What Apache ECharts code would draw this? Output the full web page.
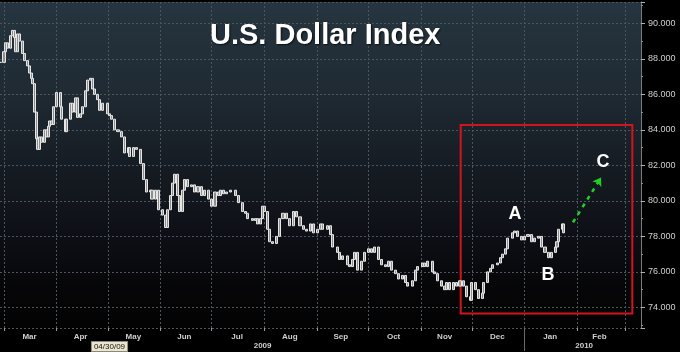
<!DOCTYPE html>
<html><head><meta charset="utf-8">
<script src="https://cdn.jsdelivr.net/npm/echarts@6/dist/echarts.min.js"></script>
<style>html,body{margin:0;padding:0;background:#000;}#c{width:680px;height:352px;}</style>
</head><body><div id="c"></div>
<script>
const dates = ['2009-02-27','2009-03-01','2009-03-02','2009-03-03','2009-03-05','2009-03-06','2009-03-07','2009-03-08','2009-03-09','2009-03-10',
'2009-03-12','2009-03-13','2009-03-15','2009-03-16','2009-03-17','2009-03-18','2009-03-19','2009-03-20','2009-03-21','2009-03-22',
'2009-03-23','2009-03-25','2009-03-26','2009-03-27','2009-03-28','2009-03-29','2009-03-30','2009-04-01','2009-04-03','2009-04-04',
'2009-04-06','2009-04-07','2009-04-09','2009-04-10','2009-04-12','2009-04-13','2009-04-15','2009-04-16','2009-04-18','2009-04-19',
'2009-04-21','2009-04-22','2009-04-23','2009-04-25','2009-04-26','2009-04-28','2009-05-01','2009-05-02','2009-05-03','2009-05-05',
'2009-05-07','2009-05-09','2009-05-11','2009-05-13','2009-05-14','2009-05-16','2009-05-18','2009-05-20','2009-05-22','2009-05-24',
'2009-05-26','2009-05-27','2009-05-29','2009-05-31','2009-06-02','2009-06-04','2009-06-05','2009-06-07','2009-06-08','2009-06-09',
'2009-06-11','2009-06-12','2009-06-14','2009-06-15','2009-06-17','2009-06-19','2009-06-21','2009-06-23','2009-06-25','2009-06-27',
'2009-06-29','2009-07-01','2009-07-03','2009-07-05','2009-07-06','2009-07-08','2009-07-10','2009-07-12','2009-07-15','2009-07-17',
'2009-07-19','2009-07-21','2009-07-22','2009-07-25','2009-07-27','2009-07-28','2009-07-30','2009-07-31','2009-08-01','2009-08-03',
'2009-08-04','2009-08-06','2009-08-08','2009-08-10','2009-08-12','2009-08-14','2009-08-16','2009-08-18','2009-08-20','2009-08-22',
'2009-08-24','2009-08-26','2009-08-28','2009-08-30','2009-09-01','2009-09-03','2009-09-04','2009-09-07','2009-09-09','2009-09-10',
'2009-09-13','2009-09-14','2009-09-16','2009-09-19','2009-09-20','2009-09-22','2009-09-23','2009-09-25','2009-09-27','2009-09-29',
'2009-10-01','2009-10-03','2009-10-05','2009-10-07','2009-10-09','2009-10-11','2009-10-13','2009-10-15','2009-10-17','2009-10-19',
'2009-10-21','2009-10-23','2009-10-24','2009-10-27','2009-10-29','2009-10-30','2009-11-02','2009-11-03','2009-11-05','2009-11-08',
'2009-11-09','2009-11-11','2009-11-13','2009-11-15','2009-11-16','2009-11-18','2009-11-20','2009-11-22','2009-11-24','2009-11-26',
'2009-11-28','2009-11-30','2009-12-01','2009-12-03','2009-12-05','2009-12-07','2009-12-08','2009-12-10','2009-12-12','2009-12-13',
'2009-12-16','2009-12-18','2009-12-19','2009-12-21','2009-12-22','2009-12-25','2009-12-26','2009-12-28','2009-12-30','2010-01-01',
'2010-01-03','2010-01-05','2010-01-07','2010-01-09','2010-01-11','2010-01-13','2010-01-15','2010-01-17','2010-01-19','2010-01-20',
'2010-01-21','2010-01-23','2010-01-24'];
const closes = [87.8,88.4,88.9,88.6,89.3,89.6,89.2,88.4,89.4,89.0,
88.3,87.9,87.6,87.2,86.9,86.6,85.0,83.5,82.9,83.6,
83.3,84.0,83.6,84.2,84.5,84.3,85.3,86.1,85.3,84.6,
83.9,84.6,85.5,85.0,85.8,84.7,84.9,85.3,86.2,86.8,
86.9,86.3,86.0,85.7,85.1,85.5,84.9,84.8,84.6,84.0,
83.9,83.6,82.7,83.0,82.5,83.0,82.9,82.1,81.2,80.5,
80.6,80.1,80.6,79.5,79.2,78.5,79.5,80.3,81.0,81.5,
80.3,79.4,80.6,81.2,80.8,80.9,80.5,80.8,80.3,80.6,
80.1,79.7,80.5,80.3,80.6,80.4,80.5,80.6,80.3,79.9,
79.4,79.3,79.0,78.9,79.0,78.7,79.0,79.7,79.4,78.4,
77.7,77.6,78.0,79.0,79.3,79.0,78.6,79.4,79.1,78.6,
78.4,78.3,78.7,78.2,78.4,78.7,78.4,78.6,78.1,77.4,
77.1,76.7,76.9,76.4,76.3,76.7,77.1,76.1,76.6,77.1,
77.3,77.1,77.4,76.7,76.4,76.3,76.6,76.1,75.9,75.6,
75.8,75.4,75.2,75.5,76.1,76.3,76.5,76.3,76.6,76.0,
75.9,75.5,75.2,75.0,75.4,75.0,75.4,75.2,75.5,75.2,
74.6,74.4,75.4,75.0,74.5,74.8,75.4,76.0,76.2,76.4,
76.5,76.8,77.0,77.3,77.9,78.2,78.3,78.0,77.8,78.0,
78.1,77.7,77.9,78.0,77.4,77.1,76.8,77.1,77.4,77.7,
78.4,78.7,78.2];

const monthStarts = ['2009-03-01','2009-04-01','2009-05-01','2009-06-01','2009-07-01','2009-08-01','2009-09-01','2009-10-01','2009-11-01','2009-12-01','2010-01-01','2010-02-01','2010-03-01'];
const monthLabels = ['Mar','Apr','May','Jun','Jul','Aug','Sep','Oct','Nov','Dec','Jan','Feb'];
const monthLabelDates = ['2009-03-16','2009-04-15','2009-05-16','2009-06-15','2009-07-16','2009-08-16','2009-09-15','2009-10-16','2009-11-15','2009-12-16','2010-01-16','2010-02-14'];
const yearLabels = ['2009','2010'];
const yearLabelDates = ['2009-07-31','2010-02-05'];
const yearBoundary = '2010-01-01';
const cursorText = '04/30/09';
const cursorDate = '2009-05-02';
const lastPrice = 78.204;
const waveNames = ['A','B','C'];
const waveDates = ['2009-12-26 07:00','2010-01-14 17:00','2010-02-16 00:00'];
const waveValues = [79.24, 75.81, 82.16];
const arrowDates = ['2010-01-29 10:00','2010-02-14 22:00'];
const arrowValues = [78.79, 81.31];
const boxDates = ['2009-11-24 10:00','2010-03-05 07:00'];
const boxValues = [84.27, 73.66];
const axisRange = ['2009-02-26 15:36','2010-03-10 09:36'];
const yMin = 72.84, yMax = 91.2;

function ts(s){
  const m = s.match(/(\d+)-(\d+)-(\d+)(?:\s+(\d+):(\d+))?/);
  return new Date(+m[1], +m[2]-1, +m[3], m[4]?+m[4]:0, m[5]?+m[5]:0).getTime();
}
const candle = closes.map((c,i)=>{
  const o = i ? closes[i-1] : c;
  return [ts(dates[i]), o, c, Math.min(o,c), Math.max(o,c)];
});
const monthLabelTs = monthLabelDates.map(ts);
const yearTs = yearLabelDates.map(ts);
const cursorTs = ts(cursorDate);
function nearestIdx(arr, v){let b=0;for(let i=1;i<arr.length;i++){if(Math.abs(arr[i]-v)<Math.abs(arr[b]-v))b=i;}return b;}

const chart = echarts.init(document.getElementById('c'), null, {renderer:'canvas'});
const font = 'Liberation Sans, Arial, sans-serif';
chart.setOption({
  animation:false,
  backgroundColor:'#000',
  title:{text:'U.S. Dollar Index', left:210, top:21, padding:0,
    textStyle:{color:'#fff', fontSize:29, fontWeight:'bold', fontFamily:font,
      textShadowColor:'rgba(0,0,0,0.7)', textShadowBlur:2, textShadowOffsetX:1, textShadowOffsetY:1}},
  grid:{left:0, right:39, top:2, bottom:23, show:true, borderWidth:0,
    backgroundColor:new echarts.graphic.LinearGradient(0,0,0,1,[
      {offset:0,color:'#26353f'},{offset:0.28,color:'#1f2a33'},{offset:0.5,color:'#161c23'},
      {offset:0.72,color:'#0e0f16'},{offset:0.88,color:'#060608'},{offset:1,color:'#030303'}])},
  xAxis:[{
    type:'value', min:ts(axisRange[0]), max:ts(axisRange[1]),
    axisLine:{show:false},
    axisTick:{show:true, customValues:monthStarts.map(ts), length:3, lineStyle:{color:'#9a9a9a'}},
    splitLine:{show:true, lineStyle:{color:'#4a5560', type:[2,2], width:1}},
    axisLabel:{customValues:monthLabelTs, margin:5, color:'#cfcfcf', fontSize:8, fontWeight:'bold', fontFamily:font,
      formatter:(v)=>monthLabels[nearestIdx(monthLabelTs, v)]}
  },{
    type:'value', min:ts(axisRange[0]), max:ts(axisRange[1]), position:'bottom',
    axisLine:{show:false},
    axisTick:{show:true, customValues:[ts(yearBoundary)], length:23, lineStyle:{color:'#6a6a6a'}},
    splitLine:{show:false},
    axisLabel:{customValues:[cursorTs].concat(yearTs), margin:14, fontFamily:font,
      formatter:(v)=>{ if (Math.abs(v-cursorTs)<1000) return '{box|'+cursorText+'}'; return '{yr|'+yearLabels[nearestIdx(yearTs,v)]+'}'; },
      rich:{box:{backgroundColor:'#ebe5cf', color:'#111', fontSize:8, padding:[1,2,0,2], borderColor:'#8a8a7a', borderWidth:1, fontFamily:font},
            yr:{color:'#d0d0d0', fontSize:8, fontWeight:'bold', fontFamily:font}}}
  }],
  yAxis:{
    type:'value', position:'right', min:yMin, max:yMax, splitNumber:9,
    axisLine:{show:true, lineStyle:{color:'#7a7a7a'}},
    axisTick:{show:true, length:4, lineStyle:{color:'#b0b0b0'}},
    minorTick:{show:true, splitNumber:2, length:2, lineStyle:{color:'#909090'}},
    splitLine:{show:true, lineStyle:{color:'#4a5560', type:[2,2], width:1}},
    axisLabel:{showMinLabel:false, showMaxLabel:false, margin:7, color:'#d0d0d0', fontSize:9, fontFamily:font,
      formatter:(v)=>v.toFixed(3)}
  },
  series:[{
    type:'candlestick', clip:false, barWidth:2.6,
    data:candle,
    itemStyle:{color:'#8e8e8e', color0:'#8e8e8e', borderColor:'#e6e6e6', borderColor0:'#e6e6e6', borderWidth:1},
    markArea:{silent:true,
      itemStyle:{color:'rgba(0,0,0,0)', borderColor:'#d3141c', borderWidth:2},
      data:[[{coord:[ts(boxDates[0]), boxValues[0]]},{coord:[ts(boxDates[1]), boxValues[1]]}]]},
    markLine:{silent:true, symbol:'none',
      data:[
        [{coord:[ts(arrowDates[0]), arrowValues[0]], symbol:'none', lineStyle:{color:'#22d022', width:2.5, type:[4,5]}},
         {coord:[ts(arrowDates[1]), arrowValues[1]], symbol:'arrow', symbolSize:8}],
        {yAxis:lastPrice, lineStyle:{opacity:0}, symbol:'none',
         label:{show:true, position:'end', distance:2, formatter:lastPrice.toFixed(3), color:'#000', backgroundColor:'#f2f2f2',
           fontSize:9, fontFamily:font, padding:[1,3,0,3], borderRadius:2}}
      ],
      label:{show:false}},
    markPoint:{silent:true, symbol:'rect', symbolSize:1, itemStyle:{color:'rgba(0,0,0,0)'},
      label:{show:true, position:'inside', formatter:'{b}', color:'#fff', fontSize:18, fontWeight:'bold', fontFamily:font},
      data:waveNames.map((n,i)=>({name:n, coord:[ts(waveDates[i]), waveValues[i]]}))}
  }]
});
</script></body></html>
